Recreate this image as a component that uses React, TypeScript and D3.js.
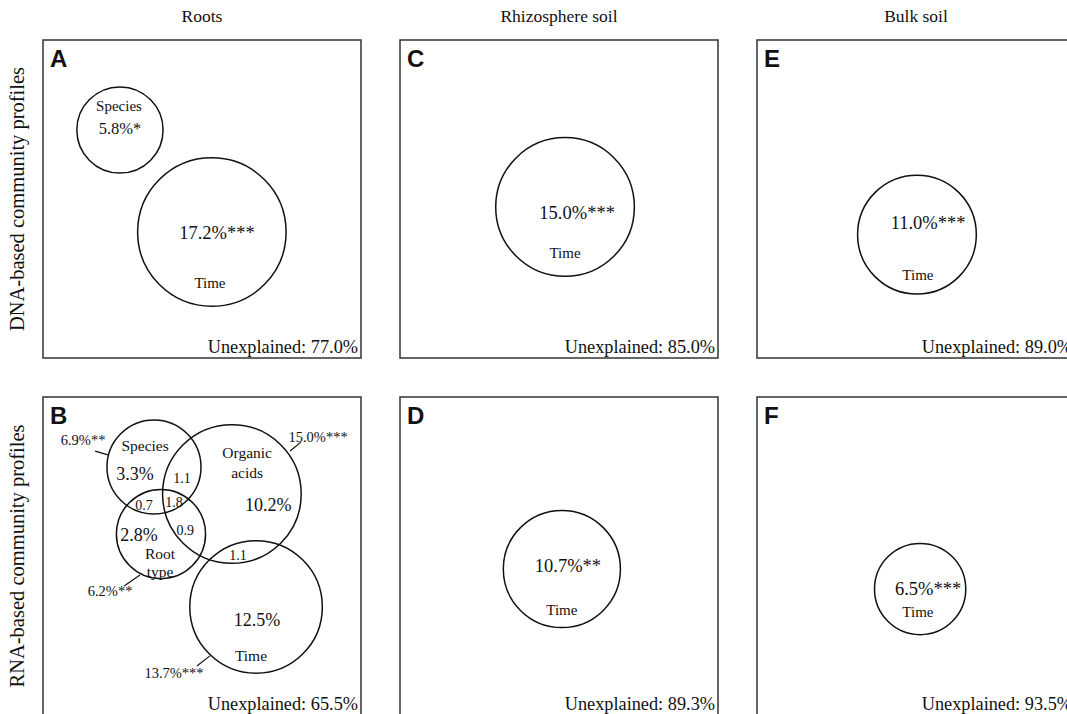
import React from "react";
import * as d3 from "d3";

// ---------- data ----------
const columnTitles = ["Roots", "Rhizosphere soil", "Bulk soil"];
const rowTitles = ["DNA-based community profiles", "RNA-based community profiles"];
const panelIds = ["A", "C", "E", "B", "D", "F"];
const panelRow = [0, 0, 0, 1, 1, 1];
const panelCol = [0, 1, 2, 0, 1, 2];
const unexplained = [77.0, 85.0, 89.0, 65.5, 89.3, 93.5];

// factor circles: total explained variance (%) and significance
const circlePanel = ["A", "A", "C", "E", "B", "B", "B", "B", "D", "F"];
const circleFactor = ["Species", "Time", "Time", "Time", "Species", "Organic acids", "Root type", "Time", "Time", "Time"];
const circleTotal = [5.8, 17.2, 15.0, 11.0, 6.9, 15.0, 6.2, 13.7, 10.7, 6.5];
const circleSig = ["*", "***", "***", "***", "**", "***", "**", "***", "**", "***"];

// partitioned fractions in panel B (RNA, roots)
const bFractionName = ["Species", "Species∩Organic acids", "Species∩Root type", "Species∩Organic acids∩Root type", "Organic acids∩Root type", "Organic acids", "Root type", "Organic acids∩Time", "Time"];
const bFractionValue = [3.3, 1.1, 0.7, 1.8, 0.9, 10.2, 2.8, 1.1, 12.5];

// ---------- layout (percent of panel side) ----------
const circleCx = [24.2, 53.1, 51.9, 50.3, 34.9, 59.4, 37.1, 67.0, 50.9, 51.3];
const circleCy = [28.3, 60.4, 52.5, 61.2, 22.0, 30.5, 43.1, 66.0, 54.1, 60.4];

const SIZE = 318;
const COL_X = [43, 400, 757];
const ROW_Y = [40, 397];

const pos = d3.scaleLinear().domain([0, 100]).range([0, SIZE]);
const rScale = d3.scaleSqrt().domain([0, 20]).range([0, 17.9 * Math.sqrt(20)]);
const fmt = d3.format(".1f");

type Label = { p: string; t: string; x: number; y: number; s: number };
type Leader = { p: string; x1: number; y1: number; x2: number; y2: number };

const total = (i: number) => `${fmt(circleTotal[i])}%${circleSig[i]}`;
const frac = (i: number, pct = false) => `${fmt(bFractionValue[i])}${pct ? "%" : ""}`;

const labels: Label[] = [
  // A
  { p: "A", t: "Species", x: 23.9, y: 20.6, s: 15 },
  { p: "A", t: total(0), x: 24.2, y: 27.9, s: 16.5 },
  { p: "A", t: total(1), x: 54.7, y: 60.4, s: 18.5 },
  { p: "A", t: "Time", x: 52.5, y: 76.4, s: 15 },
  // C
  { p: "C", t: total(2), x: 55.7, y: 54.1, s: 18.5 },
  { p: "C", t: "Time", x: 51.9, y: 67.0, s: 15 },
  // E
  { p: "E", t: total(3), x: 53.8, y: 57.5, s: 18.5 },
  { p: "E", t: "Time", x: 50.6, y: 73.9, s: 15 },
  // D
  { p: "D", t: total(8), x: 52.8, y: 53.1, s: 18.5 },
  { p: "D", t: "Time", x: 50.9, y: 67.0, s: 15 },
  // F
  { p: "F", t: total(9), x: 53.8, y: 60.1, s: 18.5 },
  { p: "F", t: "Time", x: 50.6, y: 67.6, s: 15 },
  // B
  { p: "B", t: total(4), x: 12.6, y: 13.5, s: 14.5 },
  { p: "B", t: "Species", x: 32.1, y: 15.4, s: 15.5 },
  { p: "B", t: frac(0, true), x: 28.9, y: 24.2, s: 18 },
  { p: "B", t: frac(1), x: 43.7, y: 25.5, s: 14 },
  { p: "B", t: "Organic", x: 64.2, y: 17.6, s: 15.5 },
  { p: "B", t: "acids", x: 64.2, y: 23.9, s: 15.5 },
  { p: "B", t: frac(5, true), x: 70.8, y: 34.0, s: 18 },
  { p: "B", t: total(5), x: 86.5, y: 12.6, s: 14.5 },
  { p: "B", t: frac(2), x: 31.8, y: 34.0, s: 14 },
  { p: "B", t: frac(3), x: 41.2, y: 33.0, s: 14 },
  { p: "B", t: frac(4), x: 44.7, y: 41.8, s: 14 },
  { p: "B", t: frac(6, true), x: 30.2, y: 43.4, s: 18 },
  { p: "B", t: "Root", x: 36.8, y: 49.1, s: 15.5 },
  { p: "B", t: "type", x: 36.8, y: 55.0, s: 15.5 },
  { p: "B", t: frac(7), x: 61.3, y: 49.7, s: 14 },
  { p: "B", t: total(6), x: 21.1, y: 61.0, s: 14.5 },
  { p: "B", t: frac(8, true), x: 67.3, y: 70.1, s: 18 },
  { p: "B", t: "Time", x: 65.4, y: 81.4, s: 15.5 },
  { p: "B", t: total(7), x: 41.2, y: 86.8, s: 14.5 },
];

const leaders: Leader[] = [
  { p: "B", x1: 16.4, y1: 17.0, x2: 20.4, y2: 18.2 },
  { p: "B", x1: 77.7, y1: 17.0, x2: 81.1, y2: 14.2 },
  { p: "B", x1: 25.5, y1: 59.4, x2: 30.5, y2: 56.0 },
  { p: "B", x1: 48.4, y1: 84.6, x2: 52.5, y2: 81.4 },
];

const SERIF = "'Liberation Serif', 'Times New Roman', serif";
const SANS = "'Liberation Sans', Arial, sans-serif";

function Panel({ idx }: { idx: number }) {
  const id = panelIds[idx];
  const x0 = COL_X[panelCol[idx]];
  const y0 = ROW_Y[panelRow[idx]];
  const circles = circlePanel.map((p, i) => ({ p, i })).filter((d) => d.p === id);
  return (
    <g transform={`translate(${x0},${y0})`}>
      <rect x={0} y={0} width={SIZE} height={SIZE} fill="white" stroke="#333" strokeWidth={1.5} />
      <text x={7} y={27} fontFamily={SANS} fontWeight="bold" fontSize={24} fill="#111">
        {id}
      </text>
      {circles.map(({ i }) => (
        <circle
          key={i}
          cx={pos(circleCx[i])}
          cy={pos(circleCy[i])}
          r={rScale(circleTotal[i])}
          fill="none"
          stroke="#111"
          strokeWidth={1.5}
        >
          <title>{circleFactor[i]}</title>
        </circle>
      ))}
      {leaders
        .filter((l) => l.p === id)
        .map((l, k) => (
          <line key={k} x1={pos(l.x1)} y1={pos(l.y1)} x2={pos(l.x2)} y2={pos(l.y2)} stroke="#111" strokeWidth={1.2} />
        ))}
      {labels
        .filter((l) => l.p === id)
        .map((l, k) => (
          <text
            key={k}
            x={pos(l.x)}
            y={pos(l.y)}
            dy="0.35em"
            textAnchor="middle"
            fontFamily={SERIF}
            fontSize={l.s}
            fill="#111"
          >
            {l.t}
          </text>
        ))}
      <text x={SIZE - 3} y={SIZE - 5} textAnchor="end" fontFamily={SERIF} fontSize={18.3} fill="#111">
        {`Unexplained: ${fmt(unexplained[idx])}%`}
      </text>
    </g>
  );
}

export default function App() {
  return (
    <svg
      width={1067}
      height={714}
      style={{ position: "absolute", left: 0, top: 0, background: "white" }}
    >
      <rect x={0} y={0} width={1067} height={714} fill="white" />
      {columnTitles.map((t, c) => (
        <text key={t} x={COL_X[c] + SIZE / 2} y={22} textAnchor="middle" fontFamily={SERIF} fontSize={17.5} fill="#111">
          {t}
        </text>
      ))}
      {rowTitles.map((t, r) => (
        <text
          key={t}
          transform={`translate(24,${ROW_Y[r] + SIZE / 2}) rotate(-90)`}
          textAnchor="middle"
          fontFamily={SERIF}
          fontSize={20.5}
          fill="#111"
        >
          {t}
        </text>
      ))}
      {panelIds.map((_, i) => (
        <Panel key={i} idx={i} />
      ))}
    </svg>
  );
}
